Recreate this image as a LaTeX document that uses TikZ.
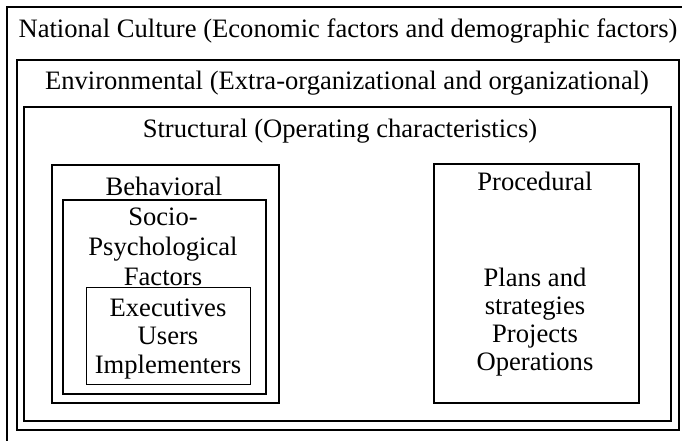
\documentclass[tikz,border=0pt]{standalone}
\usepackage{fontspec}
\setmainfont{Liberation Serif}
\usepackage{tikz}
\usetikzlibrary{positioning}
\tikzset{
  layer/.style={
    draw, line width=1.6pt, inner sep=0pt, anchor=north west
  },
  core/.style={layer, line width=1.2pt},
  lbl/.style={
    font=\fontsize{26.6}{29}\selectfont, align=center, inner sep=0pt, anchor=base
  }
}

\begin{document}
\begin{tikzpicture}[x=1pt, y=-1pt]
  \clip (0,0) rectangle (682,440);
  % nested frames, outermost first
  \node[layer, minimum width=680pt, minimum height=438pt] (culture) at (6,6) {};
  \node[layer, minimum width=662pt, minimum height=370pt] (env) at (16,59) {};
  \node[layer, minimum width=647pt, minimum height=314pt] (struct) at (23,106) {};
  \node[layer, minimum width=227pt, minimum height=238pt] (behav) at (51,164) {};
  \node[layer, minimum width=203pt, minimum height=194pt] (socio) at (62,199) {};
  \node[core, minimum width=164pt, minimum height=97pt] (exec) at (86,287) {};
  \node[layer, minimum width=205pt, minimum height=239pt] (proc) at (433,163) {};
  % captions (multi-line ones sit on their last baseline)
  \node[lbl] (cultureT) at (348,37) {National Culture (Economic factors and demographic factors)};
  \node[lbl] (envT) at (347,89) {Environmental (Extra-organizational and organizational)};
  \node[lbl] (structT) at (340,137) {Structural (Operating characteristics)};
  \node[lbl] (behavT) at (164,195) {Behavioral};
  \node[lbl, font=\fontsize{26.6}{30}\selectfont] (socioT) at (163,285) {Socio-\\Psychological\\Factors};
  \node[lbl, font=\fontsize{26.6}{28.5}\selectfont] (execT) at (168,373) {Executives\\Users\\Implementers};
  \node[lbl] (procT) at (535,190) {Procedural};
  \node[lbl, font=\fontsize{26.6}{28}\selectfont] (procL) at (535,370) {Plans and\\strategies\\Projects\\Operations};
\end{tikzpicture}
\end{document}
